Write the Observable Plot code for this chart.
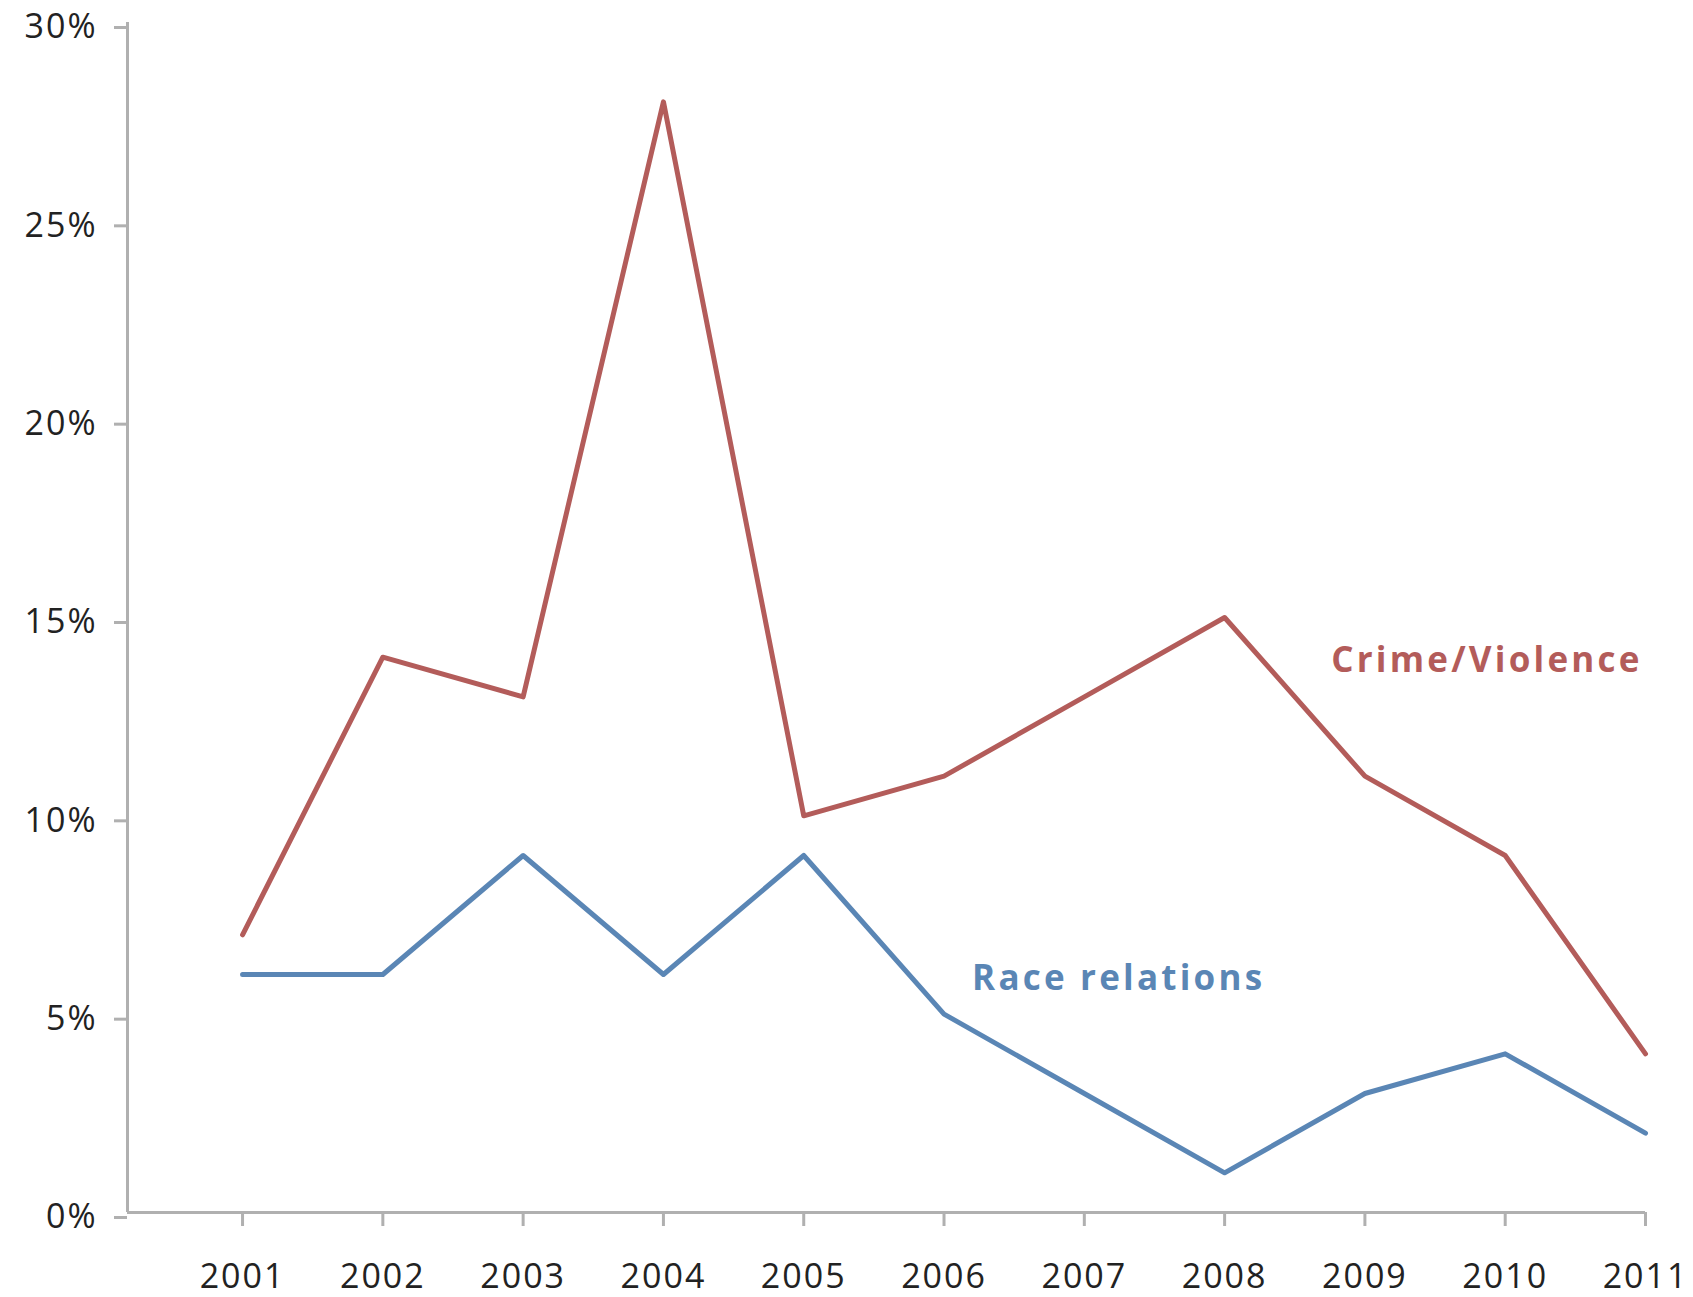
<!DOCTYPE html>
<html>
<head>
<meta charset="utf-8">
<script src="https://cdn.jsdelivr.net/npm/d3@7"></script>
<script src="https://cdn.jsdelivr.net/npm/@observablehq/plot@0.6"></script>
<style>
  html, body { margin: 0; padding: 0; background: #fff; }
  #chart svg { display: block; }
</style>
</head>
<body>
<div id="chart"></div>
<script>
const years = [2001, 2002, 2003, 2004, 2005, 2006, 2007, 2008, 2009, 2010, 2011];
const crimeViolence = [7, 14, 13, 28, 10, 11, 13, 15, 11, 9, 4];
const raceRelations = [6, 6, 9, 6, 9, 5, 3, 1, 3, 4, 2];
const yTicks = [0, 5, 10, 15, 20, 25, 30];
const seriesLabels = [
  {name: "Crime/Violence", year: 2008.76, value: 13.9, color: "#b35c5a"},
  {name: "Race relations", year: 2006.2, value: 5.9, color: "#5a86b5"}
];

const crimeData = years.map((y, i) => ({year: y, value: crimeViolence[i]}));
const raceData = years.map((y, i) => ({year: y, value: raceRelations[i]}));

const font = "'Open Sans', Lato, sans-serif";

const chart = Plot.plot({
  width: 1693,
  height: 1297,
  marginLeft: 127,
  marginRight: 48,
  marginTop: 22,
  marginBottom: 85,
  style: {fontFamily: font, fontSize: "34px", color: "#222", background: "#fff"},
  x: {domain: [2000.18, 2011]},
  y: {domain: [0, 30]},
  marks: [
    Plot.axisY({ticks: yTicks, tickFormat: d => d + "%", tickSize: 13, tickPadding: 17,
      stroke: "#b0b0b0", strokeWidth: 3, dy: 5, fill: "#222", fontSize: 34, label: null}),
    Plot.axisX({ticks: years, tickFormat: d => String(d), tickSize: 14, tickPadding: 37,
      stroke: "#b0b0b0", strokeWidth: 3, fill: "#222", fontSize: 34, label: null}),
    Plot.ruleX([2000.18], {y1: 0, y2: 30, stroke: "#b0b0b0", strokeWidth: 3}),
    Plot.ruleY([0], {stroke: "#b0b0b0", strokeWidth: 3}),
    Plot.line(crimeData, {x: "year", y: "value", stroke: "#b35c5a", strokeWidth: 5}),
    Plot.line(raceData, {x: "year", y: "value", stroke: "#5a86b5", strokeWidth: 5}),
    Plot.text(seriesLabels, {x: "year", y: "value", text: "name", fill: "color",
      fontSize: 35, fontWeight: "bold", textAnchor: "start", fontFamily: font})
  ]
});
chart.querySelectorAll("g[aria-label='x-axis tick label'] text, g[aria-label='y-axis tick label'] text")
  .forEach(t => t.setAttribute("letter-spacing", "2"));
chart.querySelectorAll("g[aria-label='text'] text")
  .forEach(t => t.setAttribute("letter-spacing", "3.2"));
document.getElementById("chart").appendChild(chart);
</script>
</body>
</html>
